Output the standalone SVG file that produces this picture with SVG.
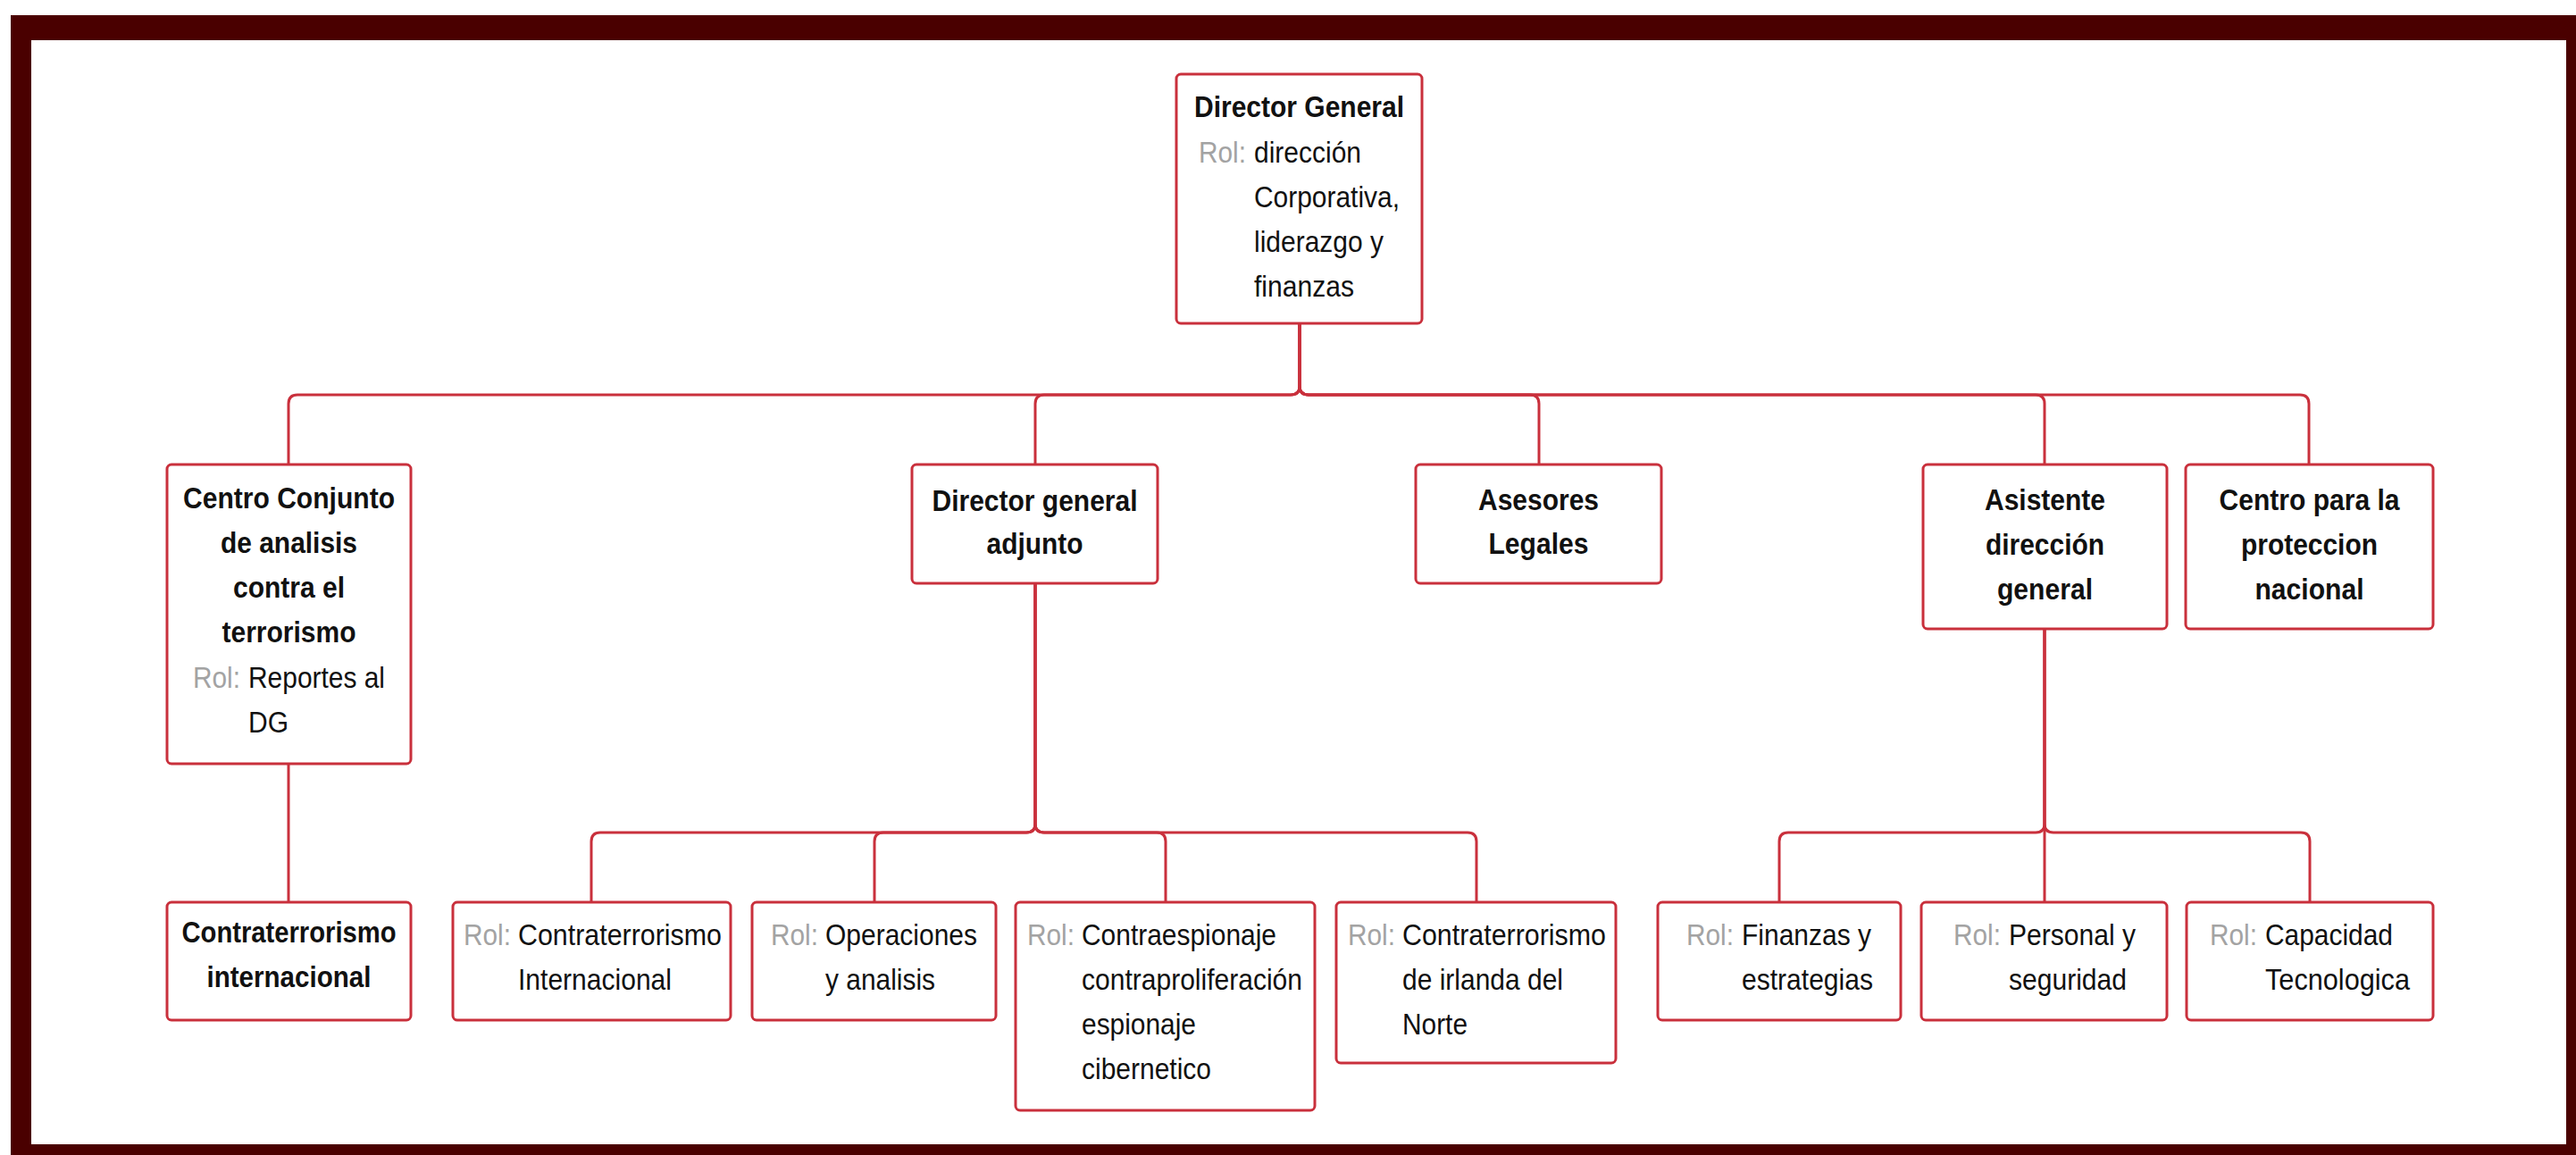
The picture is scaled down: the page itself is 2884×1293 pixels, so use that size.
<svg xmlns="http://www.w3.org/2000/svg" width="2884" height="1293" viewBox="0 0 2884 1293">
<style>
.box{fill:#ffffff;stroke:#c9303c;stroke-width:3}
.con{fill:none;stroke:#c9303c;stroke-width:3}
text{font-family:"Liberation Sans",Arial,sans-serif;font-size:33px;fill:#111111}
.b{font-weight:bold;text-anchor:middle}
.g{fill:#a3a3a3}
</style>
<rect x="0" y="0" width="2884" height="1293" fill="#ffffff"/>
<rect x="12" y="17" width="2872" height="1276" fill="#4a0000"/>
<rect x="35" y="45" width="2838" height="1236" fill="#ffffff"/>

<g id="connectors">
  <path class="con" d="M1455,362 V432 Q1455,442 1445,442 H333 Q323,442 323,452 V520"/>
  <path class="con" d="M1455,362 V432 Q1455,442 1445,442 H1169 Q1159,442 1159,452 V520"/>
  <path class="con" d="M1455,362 V432 Q1455,442 1465,442 H1713 Q1723,442 1723,452 V520"/>
  <path class="con" d="M1455,362 V432 Q1455,442 1465,442 H2279 Q2289,442 2289,452 V520"/>
  <path class="con" d="M1455,362 V432 Q1455,442 1465,442 H2575 Q2585,442 2585,452 V520"/>
  <path class="con" d="M323,855 V1010"/>
  <path class="con" d="M1159,653 V922 Q1159,932 1149,932 H672 Q662,932 662,942 V1010"/>
  <path class="con" d="M1159,653 V922 Q1159,932 1149,932 H989 Q979,932 979,942 V1010"/>
  <path class="con" d="M1159,653 V922 Q1159,932 1169,932 H1295 Q1305,932 1305,942 V1010"/>
  <path class="con" d="M1159,653 V922 Q1159,932 1169,932 H1643 Q1653,932 1653,942 V1010"/>
  <path class="con" d="M2289,704 V922 Q2289,932 2279,932 H2002 Q1992,932 1992,942 V1010"/>
  <path class="con" d="M2289,704 V1010"/>
  <path class="con" d="M2289,704 V922 Q2289,932 2299,932 H2576 Q2586,932 2586,942 V1010"/>
</g>

<g id="director-general">
  <rect class="box" x="1317" y="83" width="275" height="279" rx="5"/>
  <text class="b" x="1454.5" y="131" textLength="235" lengthAdjust="spacingAndGlyphs">Director General</text>
  <text class="g" x="1342" y="182" textLength="53" lengthAdjust="spacingAndGlyphs">Rol:</text>
  <text x="1404" y="182" textLength="120" lengthAdjust="spacingAndGlyphs">dirección</text>
  <text x="1404" y="232" textLength="163" lengthAdjust="spacingAndGlyphs">Corporativa,</text>
  <text x="1404" y="282" textLength="145" lengthAdjust="spacingAndGlyphs">liderazgo y</text>
  <text x="1404" y="332" textLength="112" lengthAdjust="spacingAndGlyphs">finanzas</text>
</g>

<g id="centro-conjunto">
  <rect class="box" x="187" y="520" width="273" height="335" rx="5"/>
  <text class="b" x="323.5" y="569" textLength="237" lengthAdjust="spacingAndGlyphs">Centro Conjunto</text>
  <text class="b" x="323.5" y="619" textLength="153" lengthAdjust="spacingAndGlyphs">de analisis</text>
  <text class="b" x="323.5" y="669" textLength="125" lengthAdjust="spacingAndGlyphs">contra el</text>
  <text class="b" x="323.5" y="719" textLength="150" lengthAdjust="spacingAndGlyphs">terrorismo</text>
  <text class="g" x="216" y="770" textLength="53" lengthAdjust="spacingAndGlyphs">Rol:</text>
  <text x="278" y="770" textLength="153" lengthAdjust="spacingAndGlyphs">Reportes al</text>
  <text x="278" y="820" textLength="45" lengthAdjust="spacingAndGlyphs">DG</text>
</g>

<g id="director-general-adjunto">
  <rect class="box" x="1021" y="520" width="275" height="133" rx="5"/>
  <text class="b" x="1158.5" y="572" textLength="230" lengthAdjust="spacingAndGlyphs">Director general</text>
  <text class="b" x="1158.5" y="620" textLength="108" lengthAdjust="spacingAndGlyphs">adjunto</text>
</g>

<g id="asesores-legales">
  <rect class="box" x="1585" y="520" width="275" height="133" rx="5"/>
  <text class="b" x="1722.5" y="571" textLength="135" lengthAdjust="spacingAndGlyphs">Asesores</text>
  <text class="b" x="1722.5" y="620" textLength="112" lengthAdjust="spacingAndGlyphs">Legales</text>
</g>

<g id="asistente-direccion-general">
  <rect class="box" x="2153" y="520" width="273" height="184" rx="5"/>
  <text class="b" x="2289.5" y="571" textLength="135" lengthAdjust="spacingAndGlyphs">Asistente</text>
  <text class="b" x="2289.5" y="621" textLength="133" lengthAdjust="spacingAndGlyphs">dirección</text>
  <text class="b" x="2289.5" y="671" textLength="107" lengthAdjust="spacingAndGlyphs">general</text>
</g>

<g id="centro-proteccion-nacional">
  <rect class="box" x="2447" y="520" width="277" height="184" rx="5"/>
  <text class="b" x="2585.5" y="571" textLength="202" lengthAdjust="spacingAndGlyphs">Centro para la</text>
  <text class="b" x="2585.5" y="621" textLength="153" lengthAdjust="spacingAndGlyphs">proteccion</text>
  <text class="b" x="2585.5" y="671" textLength="122" lengthAdjust="spacingAndGlyphs">nacional</text>
</g>

<g id="contraterrorismo-internacional">
  <rect class="box" x="187" y="1010" width="273" height="132" rx="5"/>
  <text class="b" x="323.5" y="1055" textLength="240" lengthAdjust="spacingAndGlyphs">Contraterrorismo</text>
  <text class="b" x="323.5" y="1105" textLength="184" lengthAdjust="spacingAndGlyphs">internacional</text>
</g>

<g id="rol-contraterrorismo-internacional">
  <rect class="box" x="507" y="1010" width="311" height="132" rx="5"/>
  <text class="g" x="519" y="1058" textLength="53" lengthAdjust="spacingAndGlyphs">Rol:</text>
  <text x="580" y="1058" textLength="228" lengthAdjust="spacingAndGlyphs">Contraterrorismo</text>
  <text x="580" y="1108" textLength="172" lengthAdjust="spacingAndGlyphs">Internacional</text>
</g>

<g id="rol-operaciones">
  <rect class="box" x="842" y="1010" width="273" height="132" rx="5"/>
  <text class="g" x="863" y="1058" textLength="53" lengthAdjust="spacingAndGlyphs">Rol:</text>
  <text x="924" y="1058" textLength="170" lengthAdjust="spacingAndGlyphs">Operaciones</text>
  <text x="924" y="1108" textLength="123" lengthAdjust="spacingAndGlyphs">y analisis</text>
</g>

<g id="rol-contraespionaje">
  <rect class="box" x="1137" y="1010" width="335" height="233" rx="5"/>
  <text class="g" x="1150" y="1058" textLength="53" lengthAdjust="spacingAndGlyphs">Rol:</text>
  <text x="1211" y="1058" textLength="218" lengthAdjust="spacingAndGlyphs">Contraespionaje</text>
  <text x="1211" y="1108" textLength="247" lengthAdjust="spacingAndGlyphs">contraproliferación</text>
  <text x="1211" y="1158" textLength="128" lengthAdjust="spacingAndGlyphs">espionaje</text>
  <text x="1211" y="1208" textLength="145" lengthAdjust="spacingAndGlyphs">cibernetico</text>
</g>

<g id="rol-irlanda-del-norte">
  <rect class="box" x="1496" y="1010" width="313" height="180" rx="5"/>
  <text class="g" x="1509" y="1058" textLength="53" lengthAdjust="spacingAndGlyphs">Rol:</text>
  <text x="1570" y="1058" textLength="228" lengthAdjust="spacingAndGlyphs">Contraterrorismo</text>
  <text x="1570" y="1108" textLength="180" lengthAdjust="spacingAndGlyphs">de irlanda del</text>
  <text x="1570" y="1158" textLength="73" lengthAdjust="spacingAndGlyphs">Norte</text>
</g>

<g id="rol-finanzas">
  <rect class="box" x="1856" y="1010" width="272" height="132" rx="5"/>
  <text class="g" x="1888" y="1058" textLength="53" lengthAdjust="spacingAndGlyphs">Rol:</text>
  <text x="1950" y="1058" textLength="145" lengthAdjust="spacingAndGlyphs">Finanzas y</text>
  <text x="1950" y="1108" textLength="147" lengthAdjust="spacingAndGlyphs">estrategias</text>
</g>

<g id="rol-personal">
  <rect class="box" x="2151" y="1010" width="275" height="132" rx="5"/>
  <text class="g" x="2187" y="1058" textLength="53" lengthAdjust="spacingAndGlyphs">Rol:</text>
  <text x="2249" y="1058" textLength="142" lengthAdjust="spacingAndGlyphs">Personal y</text>
  <text x="2249" y="1108" textLength="132" lengthAdjust="spacingAndGlyphs">seguridad</text>
</g>

<g id="rol-capacidad">
  <rect class="box" x="2448" y="1010" width="276" height="132" rx="5"/>
  <text class="g" x="2474" y="1058" textLength="53" lengthAdjust="spacingAndGlyphs">Rol:</text>
  <text x="2536" y="1058" textLength="143" lengthAdjust="spacingAndGlyphs">Capacidad</text>
  <text x="2536" y="1108" textLength="162" lengthAdjust="spacingAndGlyphs">Tecnologica</text>
</g>
</svg>
